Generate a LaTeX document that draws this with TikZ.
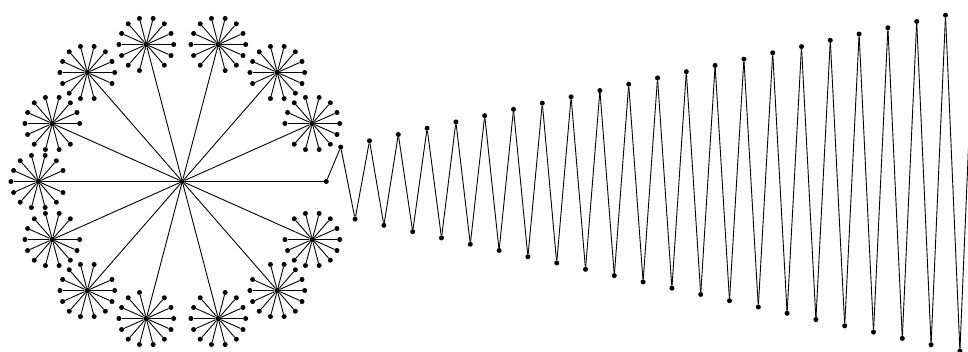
\documentclass[tikz,border=0pt]{standalone}
\usetikzlibrary{calc}
\begin{document}
\begin{tikzpicture}[x=1pt,y=-1pt,
  dot/.style={circle,fill=black,inner sep=0pt,minimum size=5pt},
  hubdot/.style={circle,fill=black,inner sep=0pt,minimum size=5.5pt},
  edge/.style={line width=0.9pt,black}]
\useasboundingbox (0,0) rectangle (968,352);
\clip (0,0) rectangle (968,352);
\node[dot] (c) at (182.3,181.5) {};
\foreach \k/\dx/\dy in {1/130/-58,2/95/-109,3/36/-137,4/-36/-137,5/-95/-109,6/-130/-58,7/-144/0,8/-130/58,9/-95/109,10/-36/137,11/36/137,12/95/109,13/130/58} {
  \node[hubdot] (h\k) at ($(c)+(\dx,\dy)$) {};
  \draw[edge] (c) -- (h\k);
  \pgfmathtruncatemacro\parentdir{mod(\k+7,14)}
  \foreach \j/\ex/\ey in {0/144/0,1/130/-58,2/95/-109,3/36/-137,4/-36/-137,5/-95/-109,6/-130/-58,7/-144/0,8/-130/58,9/-95/109,10/-36/137,11/36/137,12/95/109,13/130/58} {
    \ifnum\j=\parentdir\relax\else
      \node[dot] (l\k-\j) at ($(h\k)+0.19*(\ex,\ey)$) {};
      \draw[edge] (h\k) -- (l\k-\j);
    \fi
  }
}
\node[dot] (z0) at (326.3,181.5) {};
\draw[edge] (c) -- (z0);
\foreach \i in {1,...,45} {
  \pgfmathsetmacro\zx{326.3+14.4*\i}
  \pgfmathsetmacro\zy{181.5+(1-2*mod(\i,2))*(31.3+3.14*\i)}
  \pgfmathtruncatemacro\prev{\i-1}
  \node[dot] (z\i) at (\zx,\zy) {};
  \draw[edge] (z\prev) -- (z\i);
}
\end{tikzpicture}
\end{document}
